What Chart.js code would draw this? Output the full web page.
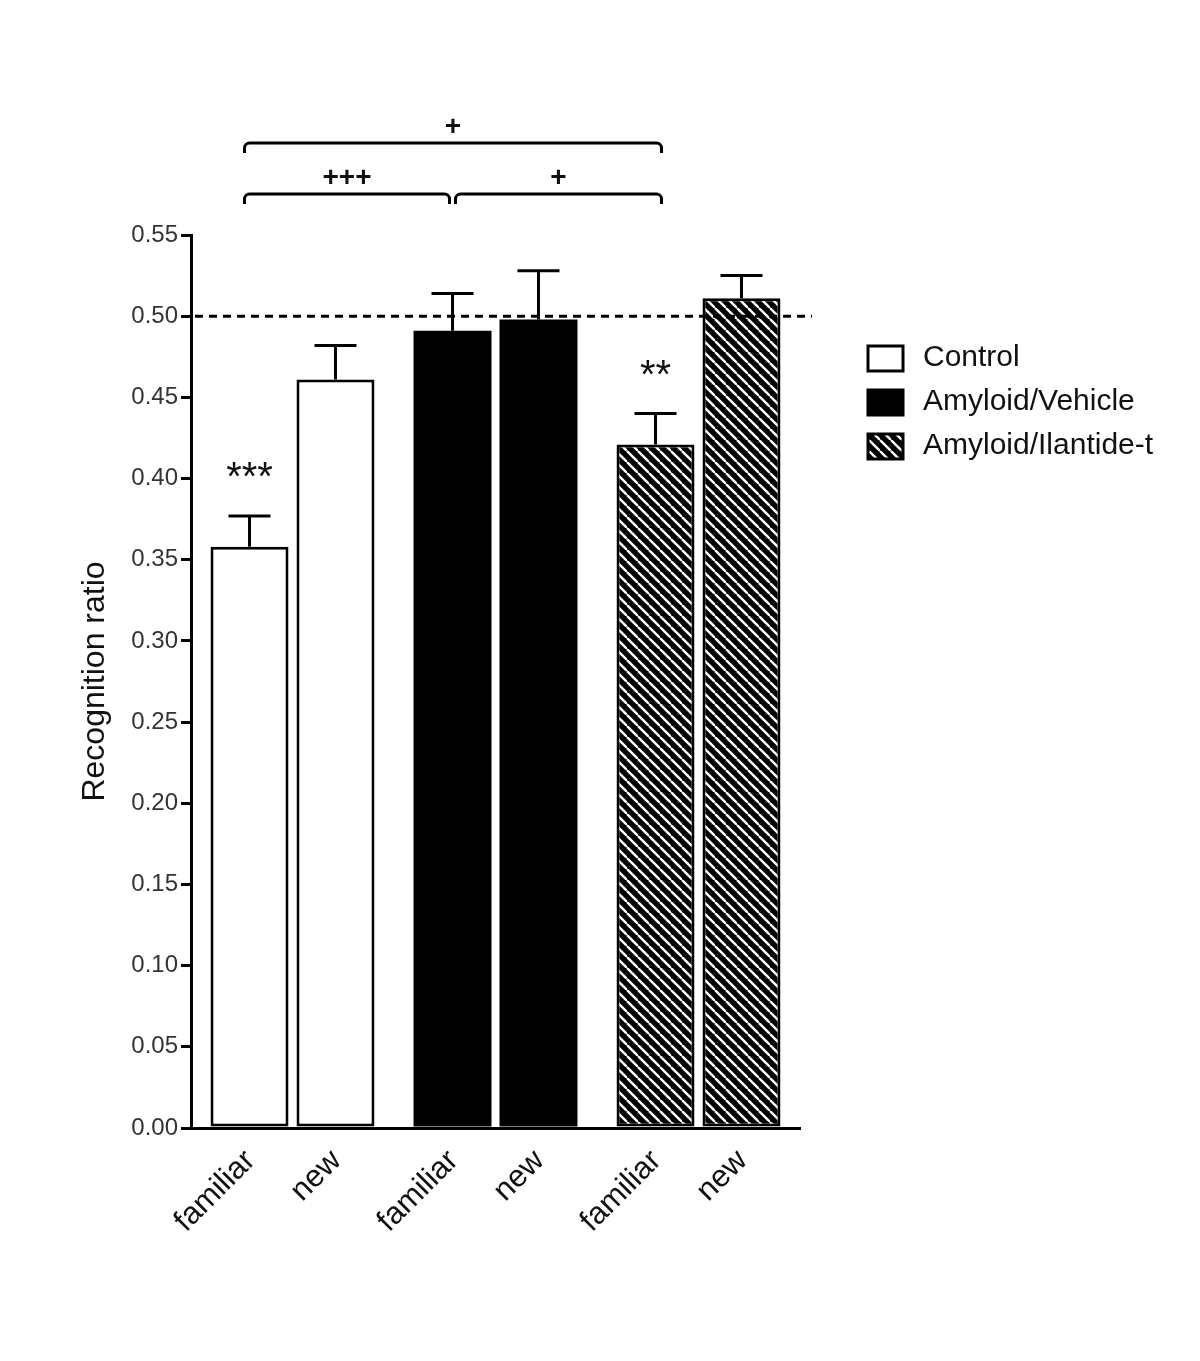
<!DOCTYPE html>
<html>
<head>
<meta charset="utf-8">
<script src="https://cdn.jsdelivr.net/npm/chart.js@4.4.1/dist/chart.umd.min.js"></script>
<style>
  body { margin: 0; background: #fff; }
  #wrap { width: 1200px; height: 1361px; }
</style>
</head>
<body>
<div id="wrap"><canvas id="js--chart"></canvas></div>
<script>
const groups = ['Control', 'Amyloid/Vehicle', 'Amyloid/Ilantide-t'];
const conditions = ['familiar', 'new'];
const familiarMean = [0.358, 0.491, 0.421];
const newMean = [0.461, 0.498, 0.511];
const familiarSem = [0.019, 0.023, 0.019];
const newSem = [0.021, 0.030, 0.014];
const yTicks = [0, 0.05, 0.10, 0.15, 0.20, 0.25, 0.30, 0.35, 0.40, 0.45, 0.50, 0.55];
const chanceLevel = 0.5;

// significance marks: bar index = group * 2 + condition
const stars = [
    { bar: 0, text: '***' },
    { bar: 4, text: '**' }
];
const comparisons = [
    { from: 0, to: 4, text: '+', level: 2 },
    { from: 0, to: 2, text: '+++', level: 1 },
    { from: 2, to: 4, text: '+', level: 1 }
];

const font = '"Liberation Sans", Arial, sans-serif';

// hatched fill for the ilantide group
function makeHatch() {
    const s = 11;
    const tile = document.createElement('canvas');
    tile.width = s;
    tile.height = s;
    const c = tile.getContext('2d');
    c.fillStyle = '#000';
    c.fillRect(0, 0, s, s);
    c.strokeStyle = '#fff';
    c.lineWidth = 2.4;
    for (let k = -1; k <= 1; k++) {
        c.beginPath();
        c.moveTo(k * s, 0);
        c.lineTo(k * s + s, s);
        c.stroke();
    }
    return c.createPattern(tile, 'repeat');
}
const hatch = makeHatch();
const groupFill = ['#ffffff', '#000000', hatch];
const groupBorder = [3, 0, 3];

function barAt(chart, i) {
    const group = Math.floor(i / 2);
    const cond = i % 2;
    return chart.getDatasetMeta(cond).data[group];
}

const extras = {
    id: 'extras',
    afterDatasetsDraw(chart) {
        const ctx = chart.ctx;
        const y = chart.scales.y;
        const area = chart.chartArea;
        const means = [familiarMean, newMean];
        const sems = [familiarSem, newSem];
        ctx.save();
        ctx.strokeStyle = '#000';
        ctx.lineWidth = 3;

        // error bars (upper only)
        for (let i = 0; i < groups.length * 2; i++) {
            const g = Math.floor(i / 2), c = i % 2;
            const bar = barAt(chart, i);
            const top = y.getPixelForValue(means[c][g]);
            const cap = y.getPixelForValue(means[c][g] + sems[c][g]);
            ctx.beginPath();
            ctx.moveTo(bar.x, top);
            ctx.lineTo(bar.x, cap);
            ctx.moveTo(bar.x - 21, cap);
            ctx.lineTo(bar.x + 21, cap);
            ctx.stroke();
        }

        // chance line
        const yc = y.getPixelForValue(chanceLevel);
        ctx.setLineDash([8, 6]);
        ctx.beginPath();
        ctx.moveTo(area.left + 4, yc);
        ctx.lineTo(area.right + 12, yc);
        ctx.stroke();
        ctx.setLineDash([]);

        // asterisks
        ctx.fillStyle = '#111';
        ctx.textAlign = 'center';
        ctx.textBaseline = 'alphabetic';
        ctx.font = '40px ' + font;
        stars.forEach(function (s) {
            const g = Math.floor(s.bar / 2), c = s.bar % 2;
            const bar = barAt(chart, s.bar);
            const cap = y.getPixelForValue(means[c][g] + sems[c][g]);
            ctx.fillText(s.text, bar.x, cap - 26);
        });

        // brackets
        ctx.font = 'bold 28px ' + font;
        ctx.textBaseline = 'middle';
        comparisons.forEach(function (cmp) {
            const ly = area.top - (cmp.level === 2 ? 92 : 41);
            let x1 = barAt(chart, cmp.from).x - 5;
            let x2 = barAt(chart, cmp.to).x + 6;
            comparisons.forEach(function (o) {
                if (o === cmp || o.level !== cmp.level) return;
                if (o.to === cmp.from) x1 = barAt(chart, cmp.from).x + 3;
                if (o.from === cmp.to) x2 = barAt(chart, cmp.to).x - 3;
            });
            const r = 5;
            ctx.beginPath();
            ctx.moveTo(x1, ly + 10);
            ctx.arcTo(x1, ly, x1 + r, ly, r);
            ctx.lineTo(x2 - r, ly);
            ctx.arcTo(x2, ly, x2, ly + 10, r);
            ctx.lineTo(x2, ly + 10);
            ctx.stroke();
            ctx.fillText(cmp.text, (x1 + x2) / 2, ly - 16);
        });

        // rotated bar labels
        ctx.font = '31px ' + font;
        ctx.textAlign = 'right';
        ctx.textBaseline = 'middle';
        for (let i = 0; i < groups.length * 2; i++) {
            const bar = barAt(chart, i);
            ctx.save();
            ctx.translate(bar.x + 1, area.bottom + 28);
            ctx.rotate(-Math.PI / 4);
            ctx.fillText(conditions[i % 2], 0, 0);
            ctx.restore();
        }

        // legend
        const lx = 868, ly0 = 358, step = 44;
        ctx.textAlign = 'left';
        ctx.font = '30px ' + font;
        groups.forEach(function (name, k) {
            const yy = ly0 + k * step;
            ctx.fillStyle = groupFill[k];
            ctx.fillRect(lx, yy - 12, 35, 25);
            ctx.strokeRect(lx, yy - 12, 35, 25);
            ctx.fillStyle = '#111';
            ctx.fillText(name, lx + 55, yy);
        });
        ctx.restore();
    }
};

const data = {
    labels: groups,
    datasets: [
        {
            label: conditions[0],
            data: familiarMean,
            backgroundColor: groupFill,
            borderColor: '#000',
            borderWidth: groupBorder,
            borderSkipped: false,
            inflateAmount: 0
        },
        {
            label: conditions[1],
            data: newMean,
            backgroundColor: groupFill,
            borderColor: '#000',
            borderWidth: groupBorder,
            borderSkipped: false,
            inflateAmount: 0
        }
    ]
};

const config = {
    type: 'bar',
    data: data,
    options: {
        responsive: true,
        maintainAspectRatio: false,
        animation: false,
        categoryPercentage: 0.847,
        barPercentage: 0.907,
        layout: {
            padding: { top: 235, right: 400, bottom: 233, left: 70 }
        },
        plugins: {
            legend: { display: false },
            tooltip: { enabled: false }
        },
        scales: {
            x: {
                grid: { display: false },
                ticks: { display: false },
                border: { display: true, color: '#000', width: 3 },
                afterFit: function (scale) { scale.height = 0; }
            },
            y: {
                min: 0,
                max: 0.55,
                afterBuildTicks: function (scale) {
                    scale.ticks = yTicks.map(function (v) { return { value: v }; });
                },
                afterFit: function (scale) { scale.width = 121; },
                grid: {
                    display: true,
                    drawOnChartArea: false,
                    drawTicks: true,
                    tickLength: 10,
                    color: '#000',
                    lineWidth: 3
                },
                border: { display: true, color: '#000', width: 3 },
                ticks: {
                    padding: 3,
                    color: '#333',
                    font: { family: font, size: 24 },
                    callback: function (v) { return Number(v).toFixed(2); }
                },
                title: {
                    display: true,
                    text: 'Recognition ratio',
                    color: '#111',
                    padding: { top: 6, bottom: 0 },
                    font: { family: font, size: 32 }
                }
            }
        }
    },
    plugins: [extras]
};

const myChart = new Chart(document.getElementById('js--chart'), config);
</script>
</body>
</html>
